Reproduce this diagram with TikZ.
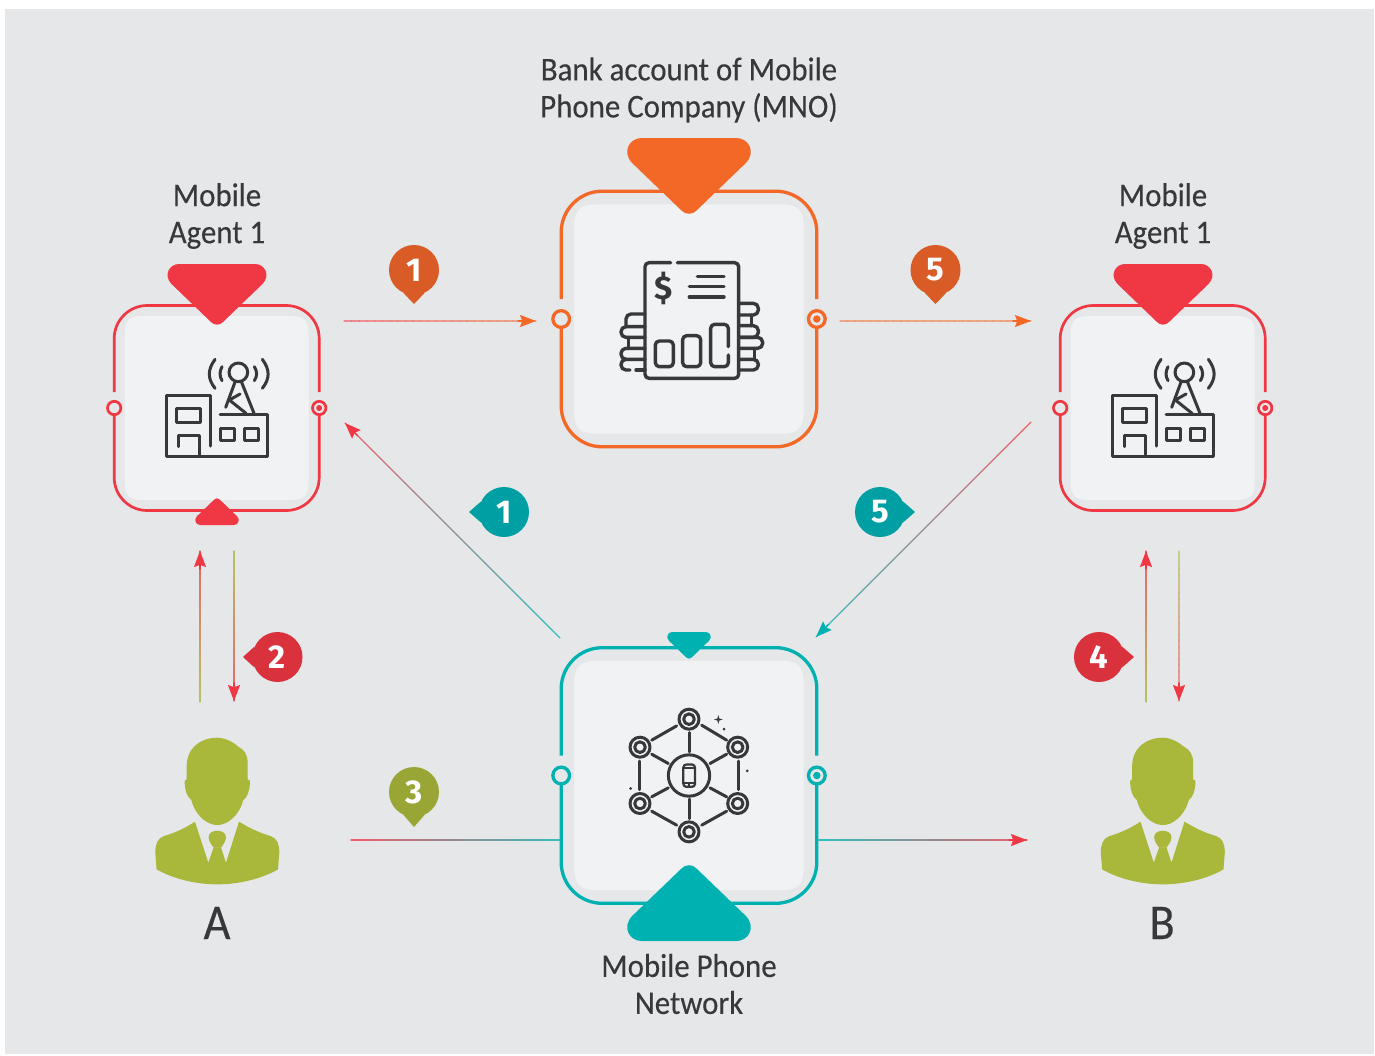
\documentclass[tikz,border=0pt]{standalone}
\usepackage{fontspec}
\setmainfont{Carlito}[FakeStretch=0.93,FakeBold=0.25]
\newfontfamily\badgefont{Fira Sans}
\usetikzlibrary{arrows.meta,calc}

\definecolor{pagegrey}{HTML}{E6E7E9}
\definecolor{panelgrey}{HTML}{F1F2F4}
\definecolor{inkgrey}{HTML}{37383A}
\definecolor{agentred}{HTML}{F03744}
\definecolor{bankorange}{HTML}{F36827}
\definecolor{netteal}{HTML}{00B1B1}
\definecolor{personolive}{HTML}{A9B73B}
\definecolor{badgeorange}{HTML}{D95B25}
\definecolor{badgeteal}{HTML}{009FA3}
\definecolor{badgered}{HTML}{D9323C}
\definecolor{badgeolive}{HTML}{99A535}

\tikzset{
	flow/.style={line width=0.65pt, line cap=round},
	flowtip/.style={-{Stealth[length=8pt,width=6pt,inset=1.1pt]}},
	badge/.style={circle, inner sep=0pt, minimum size=25pt, text=white,
		font=\badgefont\fontsize{16.5}{18}\selectfont\bfseries},
	caption/.style={align=center, text=inkgrey, font=\fontsize{16.6}{18.5}\selectfont},
	bigcaption/.style={text=inkgrey, font=\fontsize{25}{28}\selectfont},
	icon/.style={draw=inkgrey, line width=1.5pt, line cap=round, line join=round},
	pics/pointer/.style={code={
		\fill (-38,0) -- (38,0) .. controls (47.5,0) and (54,11) .. (45.5,20) -- (6,58)
			.. controls (3,61.5) and (-3,61.5) .. (-6,58) -- (-45.5,20)
			.. controls (-54,11) and (-47.5,0) .. (-38,0) -- cycle;
	}},
	pics/frame/.style={code={
		\fill[panelgrey] (-92,-72) .. controls (-92,-88) and (-88,-92) .. (-72,-92)
			-- (72,-92) .. controls (88,-92) and (92,-88) .. (92,-72)
			-- (92,72) .. controls (92,88) and (88,92) .. (72,92)
			-- (-72,92) .. controls (-88,92) and (-92,88) .. (-92,72) -- cycle;
		\draw (-102.5,-16) -- (-102.5,-69.5) .. controls (-102.5,-87.7) and (-87.7,-102.5) .. (-69.5,-102.5)
			-- (69.5,-102.5) .. controls (87.7,-102.5) and (102.5,-87.7) .. (102.5,-69.5) -- (102.5,-16);
		\draw (102.5,6) -- (102.5,69.5) .. controls (102.5,87.7) and (87.7,102.5) .. (69.5,102.5)
			-- (-69.5,102.5) .. controls (-87.7,102.5) and (-102.5,87.7) .. (-102.5,69.5) -- (-102.5,6);
		\draw (-102.5,0) circle [radius=6.7];
		\draw (102.5,0) circle [radius=6.7];
		\fill (102.5,0) circle [radius=3];
	}},
	pics/person/.style={code={
		\fill[personolive] (-92,87) .. controls (-92,30) and (-50,0) .. (0,0)
			.. controls (25,0) and (50,15) .. (63,27) .. controls (80,35) and (91,50) .. (91,75)
			-- (91,125) .. controls (98,125) and (98,130) .. (98,135)
			.. controls (98,155) and (90,180) .. (78,187) .. controls (65,235) and (30,262) .. (0,262)
			.. controls (-30,262) and (-65,235) .. (-78,187) .. controls (-90,180) and (-98,155) .. (-98,135)
			.. controls (-98,130) and (-98,125) .. (-92,125) -- cycle;
		\fill[personolive] (-67,252) .. controls (-95,270) and (-125,285) .. (-160,295)
			.. controls (-180,302) and (-186,320) .. (-186,345) -- (-182,395)
			.. controls (-130,425) and (-60,440) .. (0,440) .. controls (60,440) and (130,425) .. (182,395)
			-- (186,345) .. controls (186,320) and (180,302) .. (160,295)
			.. controls (125,285) and (95,270) .. (65,252)
			-- (26,375) -- (11,329) -- (-11,329) -- (-27,375) -- cycle;
		\fill[personolive] (-11,330) .. controls (-20,318) and (-26,308) .. (-26,298)
			.. controls (-26,285) and (-12,279) .. (0,279) .. controls (12,279) and (26,285) .. (26,298)
			.. controls (26,308) and (20,318) .. (11,330) -- cycle;
	}},
	pics/agenticon/.style={code={
		\begin{scope}[shift={(-350,-714)}]
			\draw[icon] (332,828) -- (332,675) -- (200,675) -- (200,858) -- (502,858) -- (502,733) -- (360,733);
			\draw[icon] (230,714) rectangle (302,757);
			\draw[icon] (234,830) -- (234,797) -- (298,797) -- (298,858);
			\draw[icon] (360,775) rectangle (404,812);
			\draw[icon] (433,775) rectangle (476,812);
			\draw[icon] (415,607) circle [radius=28];
			\draw[icon] (424,635) -- (462,730);
			\draw[icon] (405,636) -- (377,712);
			\draw[icon] (420,672) -- (388,690) -- (438,730);
			\draw[icon] (366,590) .. controls (358,605) and (358,618) .. (366,632);
			\draw[icon] (345,568) .. controls (322,600) and (322,625) .. (345,655);
			\draw[icon] (463,590) .. controls (472,605) and (472,618) .. (463,632);
			\draw[icon] (487,568) .. controls (510,600) and (510,625) .. (487,655);
		\end{scope}
	}},
	pics/bankicon/.style={code={
		\begin{scope}[shift={(-417,-567)}]
			\draw[icon, line width=1.7pt, rounded corners=2pt] (362,398) -- (285,398) -- (285,745) -- (566,745) -- (566,398) -- (382,398);
			\node (-dollar) at (341,476) [text=inkgrey, font=\badgefont\fontsize{16.5}{18}\selectfont\bfseries] {\$};
			\draw[icon, line width=1.7pt] (442,439) -- (522,439);
			\draw[icon, line width=1.7pt] (418,470) -- (522,470);
			\draw[icon, line width=1.7pt] (418,501) -- (522,501);
			\draw[icon, line width=1.7pt, rounded corners=2pt] (316,633) rectangle (370,710);
			\draw[icon, line width=1.7pt, rounded corners=2pt] (398,617) rectangle (452,710);
			\draw[icon, line width=1.7pt, rounded corners=2pt] (535,650) -- (535,583) -- (482,583) -- (482,710) -- (535,710) -- (535,675);
			% coins on the left
			\draw[icon, line width=1.7pt, rounded corners=2.5pt] (285,552) -- (228,552) -- (228,590);
			\draw[icon, line width=1.7pt, rounded corners=2.5pt] (285,590) -- (213,590) -- (213,622) -- (285,622);
			\draw[icon, line width=1.7pt] (235,622) -- (235,655);
			\draw[icon, line width=1.7pt, rounded corners=2.5pt] (285,655) -- (213,655) -- (213,688) -- (285,688);
			\draw[icon, line width=1.7pt, rounded corners=2.5pt] (220,688) -- (213,688) -- (213,720) -- (240,720);
			\draw[icon, line width=1.7pt] (258,720) -- (285,720);
			% coins on the right
			\draw[icon, line width=1.7pt, rounded corners=2.5pt] (566,520) -- (625,520) -- (625,555) -- (566,555);
			\draw[icon, line width=1.7pt] (604,555) -- (604,587);
			\draw[icon, line width=1.7pt, rounded corners=2.5pt] (566,587) -- (625,587) -- (625,622) -- (566,622);
			\draw[icon, line width=1.7pt, rounded corners=2.5pt] (566,622) -- (638,622) -- (638,655) -- (566,655);
			\draw[icon, line width=1.7pt] (614,655) -- (614,688);
			\draw[icon, line width=1.7pt, rounded corners=2.5pt] (566,688) -- (625,688) -- (625,720) -- (566,720);
		\end{scope}
	}},
	pics/neticon/.style={code={
		\begin{scope}[shift={(-417,-451)}]
			\foreach \ringx/\ringy in {417/282, 270/366, 563/366, 270/535, 563/535, 417/620}{
				\draw[icon] (\ringx,\ringy) circle [radius=30];
				\draw[icon] (\ringx,\ringy) circle [radius=16];
			}
			\draw[icon] (417,451) circle [radius=62];
			\draw[icon, line width=1.1pt, rounded corners=1.5pt] (400,418) rectangle (435,485);
			\draw[icon, line width=0.7pt] (400,429) -- (435,429);
			\draw[icon, line width=0.7pt] (400,473) -- (435,473);
			\draw[icon, line width=0.7pt] (417,473) -- (417,485);
			\draw[icon] (417,322) -- (417,380);
			\draw[icon] (417,522) -- (417,580);
			\draw[icon] (305,345) -- (380,302);
			\draw[icon] (455,300) -- (530,345);
			\draw[icon] (305,387) -- (355,415);
			\draw[icon] (480,415) -- (530,387);
			\draw[icon] (305,515) -- (355,488);
			\draw[icon] (480,488) -- (530,515);
			\draw[icon] (305,558) -- (380,600);
			\draw[icon] (455,600) -- (530,558);
			\draw[icon] (268,408) -- (268,493);
			\draw[icon] (565,408) -- (565,493);
			\fill[inkgrey] (505,270) -- (508,280) -- (518,283) -- (508,286) -- (505,296) -- (502,286) -- (492,283) -- (502,280) -- cycle;
			\fill[inkgrey] (522,312) circle [radius=4.5];
			\fill[inkgrey] (592,437) circle [radius=4.5];
			\fill[inkgrey] (242,490) circle [radius=4.5];
		\end{scope}
	}},
}

\newcommand{\gradline}[4]{
	\foreach \i in {0,...,24}{
		\pgfmathtruncatemacro{\mixval}{\i*4}
		\pgfmathsetmacro{\nexti}{(\i+1)*0.04}
		\draw[flow, color=#4!\mixval!#3!78!pagegrey] ($(#1)!\i*0.04!(#2)$) -- ($(#1)!\nexti!(#2)$);
	}
}
\newcommand{\gradarrow}[4]{
	\gradline{#1}{#2}{#3}{#4}
	\draw[flow, flowtip, color=#4] ($(#2)!9pt!(#1)$) -- (#2);
}

\begin{document}
\begin{tikzpicture}[x=0.5pt, y=-0.5pt]
	\useasboundingbox (0,0) rectangle (1375,1055);
	\fill[white] (0,0) rectangle (1375,1055);
	\fill[pagegrey] (5,9) rectangle (1374,1054);

	% frames
	\pic[color=agentred, line width=1.35pt] at (216.7,408) {frame};
	\pic[color=agentred, line width=1.35pt] at (1162.7,408) {frame};
	\pic[color=bankorange, line width=1.65pt, scale=1.247] at (689,319) {frame};
	\pic[color=netteal, line width=1.65pt, scale=1.247] at (689,775.5) {frame};

	% pointers
	\pic[color=agentred] at (217,264) {pointer};
	\pic[color=agentred, xscale=0.44, yscale=-0.44] at (217,525) {pointer};
	\pic[color=agentred] at (1163,264) {pointer};
	\pic[color=bankorange, scale=1.25] at (689,138) {pointer};
	\pic[color=netteal, scale=0.44] at (689,632) {pointer};
	\pic[color=netteal, xscale=1.25, yscale=-1.25] at (689,941) {pointer};

	% icons
	\pic[scale=1/3] at (216.7,408) {agenticon};
	\pic[scale=1/3] at (1162.7,408) {agenticon};
	\pic[scale=1/3] (bankicon) at (689,319) {bankicon};
	\pic[scale=1/3] at (689,775.5) {neticon};
	\pic[scale=1/3] at (217.3,737.7) {person};
	\pic[scale=1/3] at (1162.8,737.7) {person};

	% labels
	\node (agentAlabel) [caption] at (217,216) {Mobile\\Agent 1};
	\node (agentBlabel) [caption] at (1163,216) {Mobile\\Agent 1};
	\node (banklabel) [caption] at (689,90) {Bank account of Mobile\\Phone Company (MNO)};
	\node (netlabel) [caption] at (689,984) {Mobile Phone\\Network};
	\node (personA) [bigcaption] at (217,923) {A};
	\node (personB) [bigcaption] at (1162,923) {B};

	% connector ends
	\coordinate (agentAout) at (344,321);
	\coordinate (bankin) at (536,321);
	\coordinate (bankout) at (840,321);
	\coordinate (agentBin) at (1031,321);
	\coordinate (netoutA) at (560,638);
	\coordinate (agentAin) at (345,423);
	\coordinate (agentBout) at (1031,422);
	\coordinate (netin) at (816,637);
	\coordinate (personAup) at (200,702);
	\coordinate (agentAdown) at (200,551);
	\coordinate (agentAback) at (234,551);
	\coordinate (personAdown) at (234,701);
	\coordinate (personBup) at (1146,702);
	\coordinate (agentBdown) at (1146,551);
	\coordinate (agentBback) at (1179,551);
	\coordinate (personBdown) at (1179,701);
	\coordinate (personAout) at (351,840);
	\coordinate (netleft) at (560,840);
	\coordinate (netright) at (818,840);
	\coordinate (personBin) at (1027,840);

	\gradarrow{agentAout}{bankin}{agentred}{bankorange}
	\gradarrow{bankout}{agentBin}{bankorange}{bankorange}
	\gradarrow{netoutA}{agentAin}{netteal}{agentred}
	\gradarrow{agentBout}{netin}{agentred}{netteal}
	\gradarrow{personAup}{agentAdown}{personolive}{agentred}
	\gradarrow{agentAback}{personAdown}{personolive}{agentred}
	\gradarrow{personBup}{agentBdown}{personolive}{agentred}
	\gradarrow{agentBback}{personBdown}{personolive}{agentred}
	\gradline{personAout}{netleft}{agentred}{netteal}
	\gradarrow{netright}{personBin}{netteal}{agentred}

	% badges
	\node (stepOneTop) [badge, fill=badgeorange] at (414,270) {1};
	\coordinate (stepOneTopTip) at (414,304);
	\fill[badgeorange] (stepOneTop.246) -- (stepOneTopTip) -- (stepOneTop.294) -- cycle;

	\node (stepFiveTop) [badge, fill=badgeorange] at (935.5,270) {5};
	\coordinate (stepFiveTopTip) at (935.5,304);
	\fill[badgeorange] (stepFiveTop.246) -- (stepFiveTopTip) -- (stepFiveTop.294) -- cycle;

	\node (stepOneNet) [badge, fill=badgeteal] at (504,512) {1};
	\coordinate (stepOneNetTip) at (469,512);
	\fill[badgeteal] (stepOneNet.156) -- (stepOneNetTip) -- (stepOneNet.204) -- cycle;

	\node (stepFiveNet) [badge, fill=badgeteal] at (880,512) {5};
	\coordinate (stepFiveNetTip) at (915,512);
	\fill[badgeteal] (stepFiveNet.24) -- (stepFiveNetTip) -- (stepFiveNet.-24) -- cycle;

	\node (stepTwo) [badge, fill=badgered] at (277.5,657) {2};
	\coordinate (stepTwoTip) at (243,657);
	\fill[badgered] (stepTwo.156) -- (stepTwoTip) -- (stepTwo.204) -- cycle;

	\node (stepFour) [badge, fill=badgered] at (1099,657) {4};
	\coordinate (stepFourTip) at (1134,657);
	\fill[badgered] (stepFour.24) -- (stepFourTip) -- (stepFour.-24) -- cycle;

	\node (stepThree) [badge, fill=badgeolive] at (414,792) {3};
	\coordinate (stepThreeTip) at (414,827);
	\fill[badgeolive] (stepThree.246) -- (stepThreeTip) -- (stepThree.294) -- cycle;
\end{tikzpicture}
\end{document}
